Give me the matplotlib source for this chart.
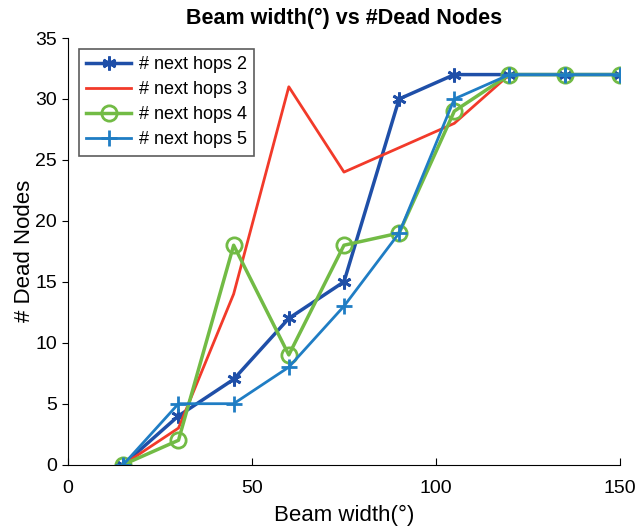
import matplotlib
matplotlib.use("Agg")
import matplotlib.pyplot as plt

plt.rcParams['font.family'] = ['Liberation Sans', 'DejaVu Sans']

beam = [15, 30, 45, 60, 75, 90, 105, 120, 135, 150]
hops2 = [0, 4, 7, 12, 15, 30, 32, 32, 32, 32]
hops3 = [0, 3, 14, 31, 24, 26, 28, 32, 32, 32]
hops4 = [0, 2, 18, 9, 18, 19, 29, 32, 32, 32]
hops5 = [0, 5, 5, 8, 13, 19, 30, 32, 32, 32]

fig = plt.figure(figsize=(6.37, 5.28), dpi=100)
ax = fig.add_axes([0.107, 0.12, 0.866, 0.808])

ax.plot(beam, hops2, color='#1f4fa8', lw=2.5, marker=(6, 2, 0), ms=10, mew=2, label='# next hops 2')
ax.plot(beam, hops3, color='#f23a2a', lw=2, label='# next hops 3')
ax.plot(beam, hops4, color='#72bb45', lw=2.5, marker='o', ms=11, mfc='none', mew=2, label='# next hops 4')
ax.plot(beam, hops5, color='#1f7dc4', lw=2, marker='+', ms=12, mew=2, label='# next hops 5')

ax.set_xlim(0, 150)
ax.set_ylim(0, 35)
ax.set_xticks([0, 50, 100, 150])
ax.set_yticks(range(0, 36, 5))
ax.spines['top'].set_visible(False)
ax.spines['right'].set_visible(False)
ax.tick_params(axis='x', direction='in', labelsize=14, length=5, pad=11)
ax.tick_params(axis='y', direction='out', labelsize=14, length=4, pad=4)
ax.set_xlabel('Beam width(°)', fontsize=16, labelpad=6)
ax.set_ylabel('# Dead Nodes', fontsize=16, labelpad=0)
ax.set_title('Beam width(°) vs #Dead Nodes', fontsize=15.5, fontweight='bold', pad=10)

leg = ax.legend(loc='upper left', fontsize=13, fancybox=False, edgecolor='#333333',
                handlelength=2.5, borderaxespad=0.6, labelspacing=0.45, handletextpad=0.4)
leg.get_frame().set_linewidth(1.2)

fig.savefig('out.png', dpi=100)
